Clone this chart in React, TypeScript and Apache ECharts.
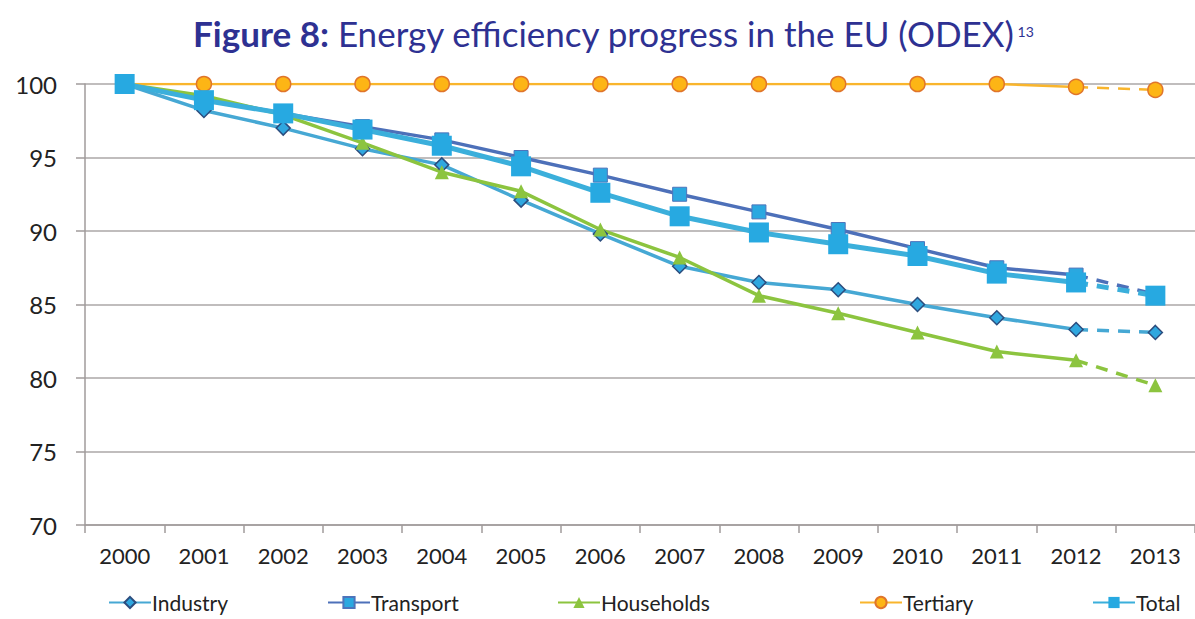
import React, { useEffect, useRef } from "react";
import * as echarts from "echarts";

const years = ["2000","2001","2002","2003","2004","2005","2006","2007","2008","2009","2010","2011","2012","2013"];
const industry = [100, 98.2, 97.0, 95.6, 94.5, 92.1, 89.8, 87.6, 86.5, 86.0, 85.0, 84.1, 83.3, 83.1];
const transport = [100, 99.0, 98.0, 97.1, 96.2, 95.0, 93.8, 92.5, 91.3, 90.1, 88.8, 87.5, 87.0, 85.7];
const households = [100, 99.2, 97.9, 96.0, 94.0, 92.7, 90.1, 88.2, 85.6, 84.4, 83.1, 81.8, 81.2, 79.5];
const tertiary = [100, 100, 100, 100, 100, 100, 100, 100, 100, 100, 100, 100, 99.8, 99.6];
const total = [100, 98.9, 98.0, 96.9, 95.8, 94.4, 92.6, 91.0, 89.9, 89.1, 88.3, 87.1, 86.5, 85.6];
const yTicks = { min: 70, max: 100, interval: 5 };

const FONT = "Lato";

type Spec = {
  name: string;
  data: number[];
  color: string;
  width: number;
  symbol: string;
  size: number;
  fill: string;
  border: string;
  borderWidth: number;
  legendLeft: number;
};

const specs: Spec[] = [
  { name: "Industry", data: industry, color: "#46A8D4", width: 3.5, symbol: "diamond", size: 14, fill: "#2FA7DF", border: "#2C4D7E", borderWidth: 1.5, legendLeft: 103 },
  { name: "Transport", data: transport, color: "#4D70B9", width: 3.5, symbol: "rect", size: 14, fill: "#2AA8E0", border: "#4D74BB", borderWidth: 1, legendLeft: 322 },
  { name: "Households", data: households, color: "#8CC43F", width: 3.5, symbol: "triangle", size: 14, fill: "#8CC43F", border: "#8CC43F", borderWidth: 0, legendLeft: 552 },
  { name: "Tertiary", data: tertiary, color: "#F9B52C", width: 2.5, symbol: "circle", size: 15, fill: "#FDB515", border: "#E0752B", borderWidth: 1.5, legendLeft: 854 },
  { name: "Total", data: total, color: "#3BAFDB", width: 5, symbol: "rect", size: 20, fill: "#27A9E1", border: "#27A9E1", borderWidth: 0, legendLeft: 1087 },
];

export default function App() {
  const ref = useRef<HTMLDivElement>(null);
  useEffect(() => {
    if (!ref.current) return;
    const chart = echarts.init(ref.current, undefined, { renderer: "svg" });
    const n = years.length;
    const series: any[] = [];
    specs.forEach((s) => {
      series.push({
        name: s.name,
        type: "line",
        data: s.data.slice(0, n - 1),
        symbol: s.symbol,
        symbolSize: s.size,
        showAllSymbol: true,
        lineStyle: { color: s.color, width: s.width },
        itemStyle: { color: s.fill, borderColor: s.border, borderWidth: s.borderWidth },
        emphasis: { disabled: true },
      });
      series.push({
        name: s.name + " estimate",
        type: "line",
        data: s.data.map((v, i) =>
          i < n - 2 ? null : i === n - 2 ? { value: v, symbol: "none" } : v
        ),
        symbol: s.symbol,
        symbolSize: s.size,
        showAllSymbol: true,
        lineStyle: { color: s.color, width: s.width, type: [12, 9] },
        itemStyle: { color: s.fill, borderColor: s.border, borderWidth: s.borderWidth },
        emphasis: { disabled: true },
      });
    });
    const legends = specs.map((s) => ({
      data: [s.name],
      left: s.legendLeft,
      top: 587,
      itemWidth: 42,
      itemHeight: 14,
      itemGap: 2,
      selectedMode: false,
      textStyle: { fontFamily: FONT, fontSize: 21, color: "#222", padding: [0, 0, 0, -4] },
    }));
    chart.setOption({
      animation: false,
      backgroundColor: "#ffffff",
      title: {
        left: 188,
        top: 10,
        text: "{b|Figure 8:}{n| Energy efficiency progress in the EU (ODEX)}{s|13}",
        textStyle: {
          fontWeight: "normal",
          rich: {
            b: { fontFamily: FONT, fontSize: 35, fontWeight: "bold", color: "#2E3192" },
            n: { fontFamily: FONT, fontSize: 35, fontWeight: "normal", color: "#2E3192" },
            s: { fontFamily: FONT, fontSize: 14, fontWeight: "normal", color: "#2E3192", verticalAlign: "top", padding: [9, 0, 0, 2] },
          },
        },
      },
      legend: legends,
      grid: { left: 85, top: 84, bottom: 94, right: -10, containLabel: false },
      xAxis: {
        type: "category",
        data: years,
        boundaryGap: true,
        axisLine: { lineStyle: { color: "#A09B9B", width: 1.5 } },
        axisTick: { show: true, length: 8, lineStyle: { color: "#A09B9B", width: 1.5 } },
        axisLabel: { fontFamily: FONT, fontSize: 22, color: "#222", margin: 19, interval: 0 },
        splitLine: { show: false },
      },
      yAxis: {
        type: "value",
        min: yTicks.min,
        max: yTicks.max,
        interval: yTicks.interval,
        axisLine: { show: true, lineStyle: { color: "#A09B9B", width: 1.5 } },
        axisTick: { show: true, length: 9, lineStyle: { color: "#A09B9B", width: 1.5 } },
        axisLabel: { fontFamily: FONT, fontSize: 24, color: "#222", margin: 28 },
        splitLine: { show: true, lineStyle: { color: "#ABA7A7", width: 1.5 } },
      },
      series,
    });
    return () => chart.dispose();
  }, []);
  return (
    <div
      ref={ref}
      style={{ position: "absolute", left: 0, top: 0, width: 1195, height: 619 }}
    />
  );
}
